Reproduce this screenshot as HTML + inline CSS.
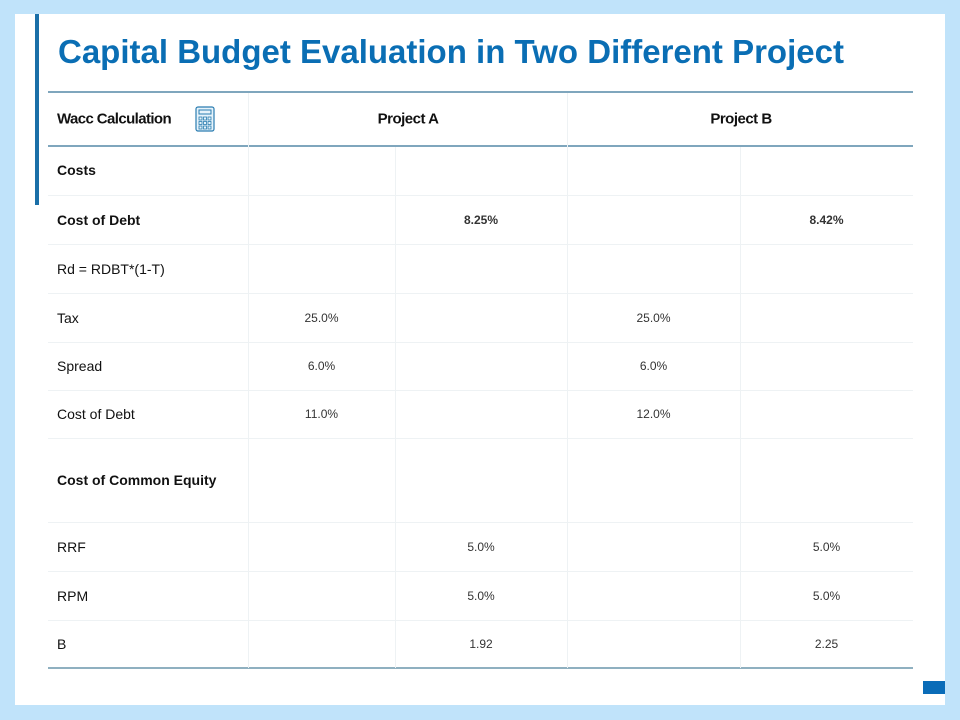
<!DOCTYPE html>
<html><head><meta charset="utf-8"><style>
body{margin:0;width:960px;height:720px;background:#c0e3fa;position:relative;overflow:hidden;font-family:"Liberation Sans",sans-serif}
.panel{position:absolute;left:15px;top:14px;width:930px;height:691px;background:#fff}
.bar{position:absolute;left:35px;top:14px;width:4px;height:191px;background:#1a6fa8}
.corner{position:absolute;left:923px;top:681px;width:22px;height:13px;background:#0a6cb8}
h1{position:absolute;left:58px;top:33px;margin:0;font-size:33px;font-weight:bold;color:#0a6eb4;white-space:nowrap;letter-spacing:0px}
.t{position:absolute;font-size:14px;color:#111;white-space:nowrap;transform:translateY(-50%)}
.c{text-align:center;transform:translate(-50%,-50%);font-size:12px;color:#333}
.hl{position:absolute;left:48px;width:865px;height:1px;background:#eef2f4}
.vl{position:absolute;width:1px;background:#eef2f4}
</style></head><body>
<div class="panel"></div>
<div class="bar"></div>
<div class="corner"></div>
<h1>Capital Budget Evaluation in Two Different Project</h1>
<div id="tbl"></div>
<svg style="position:absolute;left:195px;top:106px" width="20" height="26">
<rect x="1" y="1" width="18" height="24" rx="2" fill="#e6f3fb" stroke="#2a7cb0" stroke-width="1.2"/>
<rect x="4" y="4" width="12" height="4" fill="none" stroke="#2a7cb0"/>
<g fill="none" stroke="#2a7cb0" stroke-width="0.8">
<rect x="4" y="11" width="3" height="3"/><rect x="8.5" y="11" width="3" height="3"/><rect x="13" y="11" width="3" height="3"/>
<rect x="4" y="15.5" width="3" height="3"/><rect x="8.5" y="15.5" width="3" height="3"/><rect x="13" y="15.5" width="3" height="3"/>
<rect x="4" y="20" width="3" height="3"/><rect x="8.5" y="20" width="3" height="3"/><rect x="13" y="20" width="3" height="3"/></g></svg>
<script>
const rowLabels=["Costs","Cost of Debt","Rd = RDBT*(1-T)","Tax","Spread","Cost of Debt","Cost of Common  Equity","RRF","RPM","B"];
const boldRows=[0,1,6];
const colA1=["","","","25.0%","6.0%","11.0%","","","",""];
const colA2=["","8.25%","","","","","","5.0%","5.0%","1.92"];
const colB1=["","","","25.0%","6.0%","12.0%","","","",""];
const colB2=["","8.42%","","","","","","5.0%","5.0%","2.25"];
const rowEdges=[145,195,244,293,342,390,438,522,571,620,668];
const colEdges=[48,248,395,567,740,913];
const tbl=document.getElementById('tbl');
function add(html){tbl.insertAdjacentHTML('beforeend',html);}
add('<div class="hl" style="top:91px;height:2px;background:#7fa6bd"></div>');
add('<div class="hl" style="top:145px;height:2px;background:#7fa6bd"></div>');
add('<div class="hl" style="top:667px;height:2px;background:#8fb0c0"></div>');
add('<div class="vl" style="left:248px;top:93px;height:575px"></div>');
add('<div class="vl" style="left:567px;top:93px;height:575px"></div>');
add('<div class="vl" style="left:395px;top:147px;height:521px"></div>');
add('<div class="vl" style="left:740px;top:147px;height:521px"></div>');
add('<div class="t" style="left:57px;top:119px;font-weight:bold;font-size:15px;letter-spacing:-0.6px">Wacc Calculation</div>');
add('<div class="t c" style="left:408px;top:119px;font-weight:bold;font-size:15px;color:#111;letter-spacing:-0.5px">Project A</div>');
add('<div class="t c" style="left:741px;top:119px;font-weight:bold;font-size:15px;color:#111;letter-spacing:-0.5px">Project B</div>');
const cols=[colA1,colA2,colB1,colB2];
for(let i=0;i<rowLabels.length;i++){
 const y=(rowEdges[i]+rowEdges[i+1])/2;
 if(i>0) add('<div class="hl" style="top:'+rowEdges[i]+'px"></div>');
 const b=boldRows.includes(i);
 add('<div class="t" style="left:57px;top:'+y+'px;'+(b?'font-weight:bold;font-size:14px':'')+'">'+rowLabels[i]+'</div>');
 cols.forEach((arr,k)=>{
  if(!arr[i])return;
  const x=(colEdges[k+1]+colEdges[k+2])/2;
  add('<div class="t c" style="left:'+x+'px;top:'+y+'px;'+(b?'font-weight:bold;':'')+'">'+arr[i]+'</div>');
 });
}
</script>
</body></html>
